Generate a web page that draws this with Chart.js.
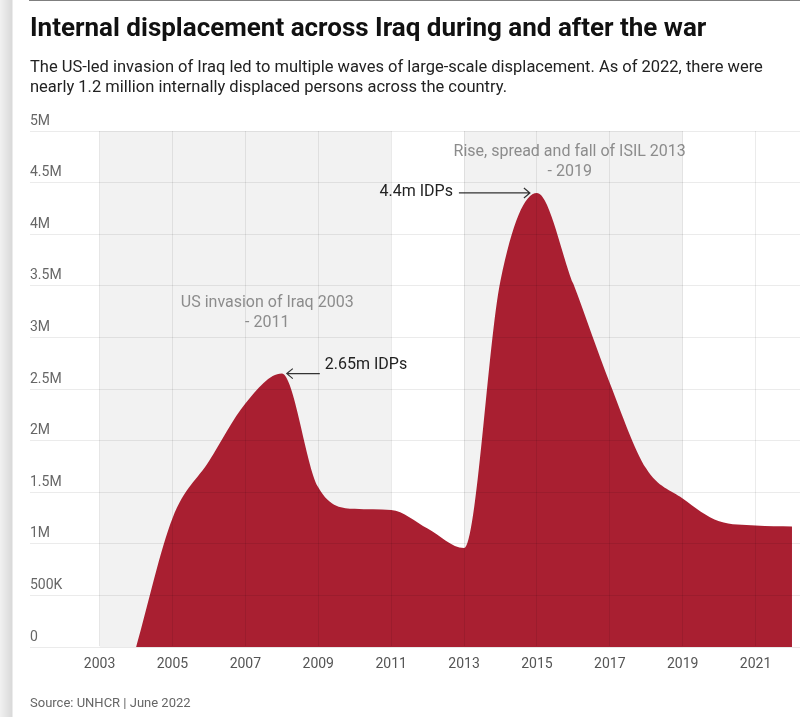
<!DOCTYPE html>
<html>
<head>
<meta charset="utf-8">
<script src="https://cdn.jsdelivr.net/npm/chart.js@4.4.1/dist/chart.umd.min.js"></script>
<style>
  html, body { margin: 0; padding: 0; }
  body {
    width: 800px;
    height: 717px;
    position: relative;
    overflow: hidden;
    font-family: Roboto, sans-serif;
    background: linear-gradient(to right, #f1f1f1 0px, #d9d9d9 12px, #ffffff 13px);
  }
  #chart-wrap { position: absolute; left: 0; top: 0; width: 800px; height: 717px; }
  .title {
    position: absolute; left: 30px; top: 12px; margin: 0;
    font-size: 26px; line-height: 30px; font-weight: 700; color: #111;
    white-space: nowrap;
  }
  .subtitle {
    position: absolute; left: 30px; top: 57px; margin: 0;
    font-size: 16.5px; line-height: 20px; color: #222;
    white-space: nowrap;
  }
  .source {
    position: absolute; left: 30px; top: 694px; margin: 0;
    font-size: 13px; line-height: 18px; color: #666;
    white-space: nowrap;
  }
</style>
</head>
<body>
<div id="chart-wrap"><canvas id="idp-chart"></canvas></div>
<h1 class="title">Internal displacement across Iraq during and after the war</h1>
<p class="subtitle">The US-led invasion of Iraq led to multiple waves of large-scale displacement. As of 2022, there were<br>nearly 1.2 million internally displaced persons across the country.</p>
<p class="source">Source: UNHCR | June 2022</p>

<script>
// values
const years = [2004, 2005, 2006, 2007, 2008, 2009, 2010, 2011, 2012, 2013,
               2014, 2015, 2016, 2017, 2018, 2019, 2020, 2021, 2022];
const idps = [0, 1250000, 1800000, 2360000, 2650000, 1550000, 1340000, 1330000, 1150000, 960000,
              3550000, 4400000, 3520000, 2560000, 1730000, 1440000, 1220000, 1180000, 1170000];

const xTickYears = [2003, 2005, 2007, 2009, 2011, 2013, 2015, 2017, 2019, 2021];
const yTickValues = [0, 500000, 1000000, 1500000, 2000000, 2500000, 3000000, 3500000, 4000000, 4500000, 5000000];
const yTickLabels = ['0', '500K', '1M', '1.5M', '2M', '2.5M', '3M', '3.5M', '4M', '4.5M', '5M'];

const bandStarts = [2003, 2013];
const bandEnds = [2011, 2019];
const bandLabels = [['US invasion of Iraq 2003', '- 2011'], ['Rise, spread and fall of ISIL 2013', '- 2019']];
const peakYears = [2008, 2015];
const peakLabels = ['2.65m IDPs', '4.4m IDPs'];

Chart.defaults.font.family = 'Roboto, sans-serif';

// shaded periods behind the area
const bandsPlugin = {
    id: 'bands',
    beforeDatasetsDraw(chart) {
        const { ctx, chartArea, scales: { x } } = chart;
        ctx.save();
        ctx.fillStyle = '#f2f2f2';
        bandStarts.forEach((start, i) => {
            const x0 = x.getPixelForValue(start);
            const x1 = x.getPixelForValue(bandEnds[i]);
            ctx.fillRect(x0, chartArea.top, x1 - x0, chartArea.bottom - chartArea.top);
        });
        ctx.restore();
    }
};

function drawArrow(ctx, fromX, toX, y) {
    const dir = Math.sign(toX - fromX);
    ctx.beginPath();
    ctx.moveTo(fromX, y);
    ctx.lineTo(toX, y);
    ctx.moveTo(toX - dir * 6, y - 5);
    ctx.lineTo(toX, y);
    ctx.lineTo(toX - dir * 6, y + 5);
    ctx.stroke();
}

// period captions and peak call-outs
const notesPlugin = {
    id: 'notes',
    afterDatasetsDraw(chart) {
        const { ctx, scales: { x, y } } = chart;
        ctx.save();
        ctx.font = '16px Roboto, sans-serif';
        ctx.textAlign = 'center';
        ctx.textBaseline = 'middle';
        ctx.fillStyle = '#8c8c8c';
        const spots = [[2007.6, 3330000], [2015.9, 4800000]];
        bandLabels.forEach((lines, i) => {
            const cx = x.getPixelForValue(spots[i][0]);
            const cy = y.getPixelForValue(spots[i][1]);
            lines.forEach((line, j) => ctx.fillText(line, cx, cy + j * 20));
        });

        ctx.fillStyle = '#222';
        ctx.strokeStyle = '#333';
        ctx.lineWidth = 1.2;
        peakYears.forEach((year, i) => {
            const idx = years.indexOf(year);
            const px = x.getPixelForValue(year);
            const py = y.getPixelForValue(idps[idx]);
            if (i === 0) {
                drawArrow(ctx, px + 38, px + 5, py);
                ctx.textAlign = 'left';
                ctx.fillText(peakLabels[i], px + 43, py - 9);
            } else {
                drawArrow(ctx, px - 78, px - 7, py);
                ctx.textAlign = 'right';
                ctx.fillText(peakLabels[i], px - 84, py - 1);
            }
        });
        ctx.restore();
    }
};

const ctx = document.getElementById('idp-chart').getContext('2d');
const idpChart = new Chart(ctx, {
    type: 'line',
    data: {
        datasets: [{
            label: 'Internally displaced persons',
            data: years.map((yr, i) => ({ x: yr, y: idps[i] })),
            backgroundColor: '#a91f31',
            borderWidth: 0,
            pointRadius: 0,
            fill: 'origin',
            cubicInterpolationMode: 'monotone'
        }]
    },
    options: {
        responsive: true,
        maintainAspectRatio: false,
        animation: false,
        layout: { padding: { top: 131, left: 30, right: 0, bottom: 35 } },
        plugins: {
            legend: { display: false },
            tooltip: { enabled: false }
        },
        scales: {
            x: {
                type: 'linear',
                min: 2001.09,
                max: 2022.22,
                afterBuildTicks: axis => { axis.ticks = xTickYears.map(v => ({ value: v })); },
                grid: { color: 'rgba(0,0,0,0.08)', drawTicks: false, z: 1 },
                border: { display: true, color: '#555', width: 1.5 },
                ticks: {
                    color: '#555',
                    font: { size: 14 },
                    padding: 9,
                    maxRotation: 0,
                    autoSkip: false,
                    callback: v => String(v)
                }
            },
            y: {
                min: 0,
                max: 5000000,
                afterBuildTicks: axis => { axis.ticks = yTickValues.map(v => ({ value: v })); },
                grid: { color: 'rgba(0,0,0,0.08)', drawTicks: false, z: 1 },
                border: { display: false },
                ticks: {
                    mirror: true,
                    padding: 0,
                    labelOffset: -10,
                    color: '#666',
                    font: { size: 14 },
                    callback: (v, i) => yTickLabels[i]
                }
            }
        }
    },
    plugins: [bandsPlugin, notesPlugin]
});
</script>
</body>
</html>
